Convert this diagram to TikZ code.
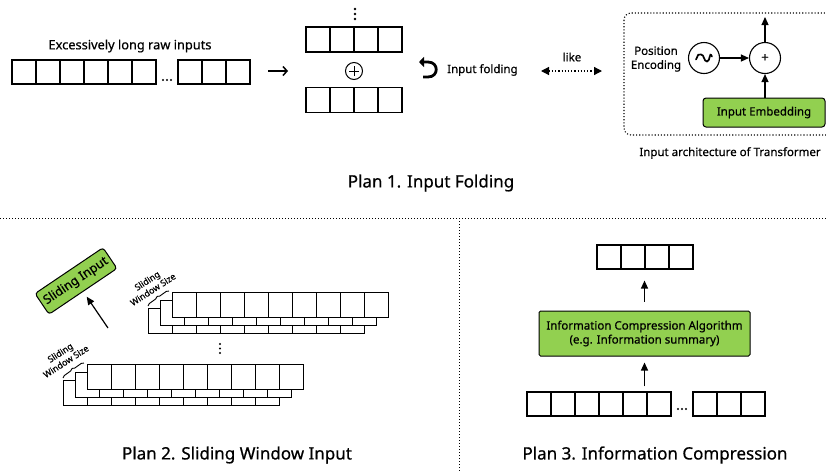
\documentclass[tikz,border=0pt]{standalone}
\usepackage{fontspec}
\setmainfont{Noto Sans}[FakeBold=0.6]
\usetikzlibrary{arrows.meta,decorations.pathreplacing,shapes.geometric}
\definecolor{gr}{RGB}{146,208,80}
\begin{document}
\begin{tikzpicture}[x=1pt,y=-1pt,
  cell/.style={draw, line width=1.1pt, fill=white, minimum width=24pt, minimum height=24pt, inner sep=0pt},
  wcell/.style={draw, line width=1pt, fill=white, minimum width=24pt, minimum height=25pt, inner sep=0pt},
  lbl/.style={font=\fontsize{11.5}{14}\selectfont, inner sep=0pt},
  small/.style={font=\fontsize{8.8}{10.5}\selectfont, inner sep=0pt, align=center},
  title/.style={font=\fontsize{17}{20}\selectfont, inner sep=0pt},
  arr/.style={line width=1.2pt, -{Triangle[length=8pt,width=7pt]}},
  greenbox/.style={draw, line width=1pt, fill=gr, rounded corners=3pt, inner sep=0pt},
  sep/.style={dotted, line width=1pt},
  circ/.style={draw, circle, line width=1.1pt, minimum size=31pt, inner sep=0pt},
  dot/.style={fill, circle, inner sep=0pt, minimum size=2.6pt},
]
\useasboundingbox (0,0) rectangle (826,472);

% ---------------- Plan 1 ----------------
\node[lbl, font=\fontsize{12.8}{14}\selectfont] (rawlbl) at (130,46) {Excessively long raw inputs};
\foreach \i in {0,...,5} \node[cell] (ra\i) at (24+24*\i,72) {};
\foreach \j in {0,1,2} \node[dot, minimum size=2.3pt] (rad\j) at (163+4*\j,80) {};
\foreach \i in {0,...,2} \node[cell] (rb\i) at (190+24*\i,72) {};

\coordinate (a1) at (268,71);
\coordinate (a2) at (288,71);
\draw[line width=1.5pt, -{Straight Barb[length=4pt,width=9pt]}] (a1) -- (a2);

\foreach \j in {0,1,2} \node[dot] (fd\j) at (355,9+5*\j) {};
\foreach \i in {0,...,3} \node[cell, minimum height=25pt] (ft\i) at (318+24*\i,39.5) {};
\node[draw, circle, line width=1pt, minimum size=17pt, inner sep=0pt] (oplus) at (354,71) {};
\draw[line width=1pt] ([xshift=-5pt]oplus.center) -- ([xshift=5pt]oplus.center);
\draw[line width=1pt] ([yshift=-5pt]oplus.center) -- ([yshift=5pt]oplus.center);
\foreach \i in {0,...,3} \node[cell, minimum height=25pt] (fb\i) at (318+24*\i,100) {};

\draw[line width=2.8pt, -{Triangle[length=5pt,width=10pt]}] (423,77) -- (428,77) .. controls (439,77) and (439,62) .. (428,62) -- (419,62);
\node[lbl, anchor=west] (fold) at (447,70) {Input folding};

\node[lbl] (like) at (572,57) {like};
\coordinate (l1) at (541,71);
\coordinate (l2) at (602,71);
\draw[dotted, line width=1.2pt, {Triangle[length=8pt,width=8pt]}-{Triangle[length=8pt,width=8pt]}] (l1) -- (l2);

\draw[dotted, line width=1.1pt, rounded corners=7pt] (624,13) rectangle (840,135);
\node[lbl, align=center] (pos) at (656,59) {Position\\Encoding};
\node[circ] (sine) at (704,58) {};
\draw[line width=1.7pt, line cap=round] ([xshift=-8pt,yshift=-1.5pt]sine.center) .. controls +(3,-6) and +(-3.5,0) .. ([xshift=-3pt,yshift=3.5pt]sine.center) .. controls +(3.5,0) and +(-3.5,0) .. ([xshift=3pt,yshift=-3.5pt]sine.center) .. controls +(3.5,0) and +(-3,-6) .. ([xshift=8pt,yshift=1.5pt]sine.center);
\node[circ, font=\fontsize{13}{13}\selectfont] (plus) at (765,58) {+};
\coordinate (outtop) at (765,17);
\node[greenbox, minimum width=122pt, minimum height=29pt, font=\fontsize{11.5}{12}\selectfont] (emb) at (764,112.5) {Input Embedding};
\draw[arr] (sine) -- (plus);
\draw[arr] (plus) -- (outtop);
\draw[arr] (emb.north -| plus) -- (plus.south);
\node[lbl] (archlbl) at (730,153) {Input architecture of Transformer};

\node[title] (t1) at (431,183) {Plan 1. Input Folding};

% separators
\coordinate (h1) at (0,218);
\coordinate (h2) at (826,218);
\coordinate (v1) at (459,218);
\coordinate (v2) at (459,472);
\draw[sep] (h1) -- (h2);
\draw[sep] (v1) -- (v2);

% ---------------- Plan 2 ----------------
\node[greenbox, rotate=34, minimum width=82pt, minimum height=25pt, font=\fontsize{12.5}{12}\selectfont] (si) at (76,281) {Sliding Input};
\coordinate (sa) at (108,328);
\draw[arr, shorten >=6pt] (sa) -- (si);

\foreach \k in {2,1,0} {
  \foreach \i in {0,...,8} \node[wcell] (u\k-\i) at (184-12*\k+24*\i, 304.5+8*\k) {};
}
\foreach \k in {2,1,0} {
  \foreach \i in {0,...,8} \node[wcell] (d\k-\i) at (99-12*\k+24*\i, 376.5+8*\k) {};
}
\coordinate (ub1) at (148,306);
\coordinate (ub2) at (169,291);
\draw[line width=0.9pt, decorate, decoration={brace, amplitude=2.5pt}] (ub1) -- (ub2);
\node[small, rotate=33] (sw1) at (150,285) {Sliding\\Window Size};
\coordinate (db1) at (63,378);
\coordinate (db2) at (84,363);
\draw[line width=0.9pt, decorate, decoration={brace, amplitude=2.5pt}] (db1) -- (db2);
\node[small, rotate=33] (sw2) at (63,357) {Sliding\\Window Size};
\foreach \j in {0,1,2} \node[dot, minimum size=2.4pt] (wd\j) at (220,344+4.5*\j) {};

\node[title] (t2) at (237,455) {Plan 2. Sliding Window Input};

% ---------------- Plan 3 ----------------
\foreach \i in {0,...,3} \node[cell] (ct\i) at (609+24*\i,257) {};
\node[greenbox, rounded corners=1.5pt, minimum width=211pt, minimum height=45pt, align=center, font=\fontsize{11.5}{14}\selectfont] (comp) at (644.5,333.5) {Information Compression Algorithm\\(e.g. Information summary)};
\foreach \i in {0,...,5} \node[cell] (cb\i) at (539+24*\i,404) {};
\foreach \j in {0,1,2} \node[dot, minimum size=2.3pt] (cd\j) at (678+4*\j,409) {};
\foreach \i in {0,...,2} \node[cell] (cc\i) at (705+24*\i,404) {};
\draw[arr, shorten <=9pt, shorten >=11pt] (comp.north) -- (comp.north |- ct1.south);
\draw[arr, shorten <=5pt, shorten >=6pt] (comp.south |- cb4.north) -- (comp.south);

\node[title] (t3) at (655,455) {Plan 3. Information Compression};
\end{tikzpicture}
\end{document}
